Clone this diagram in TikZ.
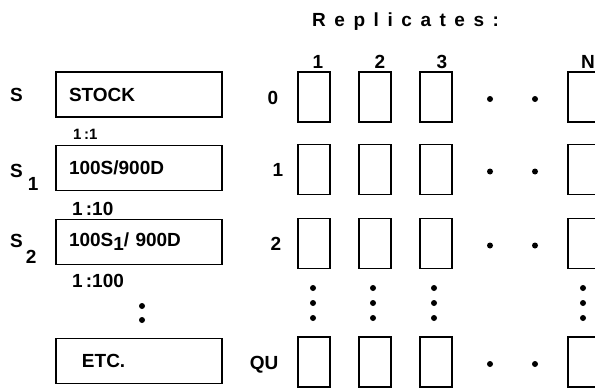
\documentclass[tikz,border=0pt]{standalone}
\usepackage{fontspec}
\setmainfont{Liberation Sans}

\begin{document}
\begin{tikzpicture}[x=1pt, y=-1pt,
  lbl/.style={font=\fontsize{19}{19}\selectfont\bfseries, inner sep=0pt},
  small/.style={font=\fontsize{15}{15}\selectfont\bfseries, inner sep=0pt},
  dilbox/.style={draw, line width=1.2pt, lbl, minimum width=166pt, minimum height=45pt,
    text width=140pt, align=left, inner xsep=13pt},
  repbox/.style={draw, line width=1.2pt, minimum width=32pt, minimum height=50pt, inner sep=0pt}
]
\useasboundingbox (0,0) rectangle (595,388);

% Title
\node[lbl, anchor=base west] (title) at (312,26) {\addfontfeature{LetterSpace=45}Replicates:};

% Dilution series (left)
\node[dilbox] (stock) at (139,94.5) {STOCK};
\node[dilbox] (sone)  at (139,168)  {100S/900D};
\node[dilbox] (stwo)  at (139,242)  {100S\raisebox{-4pt}{1}/ 900D};
\node[dilbox] (etc)   at (139,361)  {\hspace{13pt}ETC.};

\node[lbl, anchor=base west] (s)    at (10,101) {S};
\node[lbl, anchor=base west] (ssub1) at (10,177) {S\hspace{5pt}\raisebox{-13pt}{1}};
\node[lbl, anchor=base west] (ssub2) at (10,247) {S\hspace{3pt}\raisebox{-16pt}{2}};

\node[small, anchor=base west] (dil1)   at (73,139) {1\,:1};
\node[lbl, anchor=base west]   (dil10)  at (72,215) {1\,:10};
\node[lbl, anchor=base west]   (dil100) at (72,287) {1\,:100};

\fill (142,306) circle (3pt);
\fill (142,320) circle (3pt);

% Replicate columns
\foreach \c/\x/\t in {1/318/1, 2/380/2, 3/442/3, n/588/N}{
  \node[lbl, anchor=base] (head\c) at (\x,68) {\t};
}

\foreach \r/\y/\lx/\t in {0/97/273/0, 1/169.5/278/1, 2/243.5/276/2, qu/362/264/QU}{
  \node[lbl, anchor=base] (row\r) at (\lx,\y+7) {\t};
  \foreach \c/\x in {1/314, 2/375, 3/436, n/584}{
    \node[repbox] (r\r c\c) at (\x,\y) {};
  }
  % dots between column 3 and N
  \fill (490,\y+2) circle (3pt);
  \fill (535,\y+2) circle (3pt);
}

% Row dots between 2 and QU
\foreach \x in {313, 373, 434, 583}{
  \foreach \y in {288, 303, 318}{
    \fill (\x,\y) circle (3pt);
  }
}

\end{tikzpicture}
\end{document}
